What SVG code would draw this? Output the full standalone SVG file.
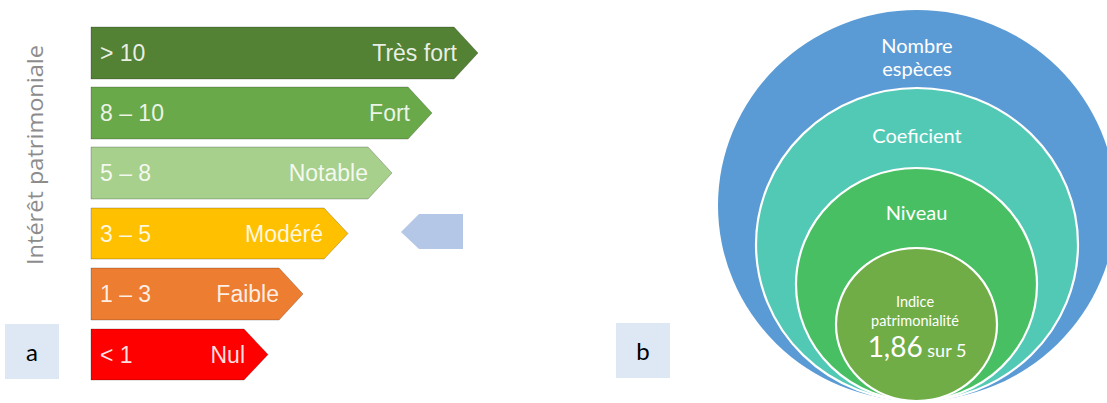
<svg xmlns="http://www.w3.org/2000/svg" width="1107" height="403" viewBox="0 0 1107 403">
<style>
.bar{stroke:#000;stroke-opacity:0.22;stroke-width:1}
.bt{font-family:"Liberation Sans",Arial,sans-serif;font-size:23px;fill:#fff;fill-opacity:0.88}
.ct{font-family:Lato,"Open Sans",sans-serif;fill:#fff;text-anchor:middle}
.lbl{font-family:Lato,"Open Sans",sans-serif;font-size:24px;fill:#000;text-anchor:middle}
.ring{stroke:#fff;stroke-width:2.2}
</style>
<rect width="1107" height="403" fill="#fff"/>
<g id="axis-label">
<text x="43" y="155" transform="rotate(-90 43 155)" text-anchor="middle" font-family="'Open Sans',sans-serif" font-size="21" fill="#8c8c8c" textLength="220" lengthAdjust="spacingAndGlyphs">Intérêt patrimoniale</text>
</g>
<g id="bar-tres-fort">
<polygon class="bar" fill="#548235" points="91,27 454,27 478,53 454,79 91,79"/>
<text class="bt" x="100" y="61">&gt; 10</text>
<text class="bt" x="457" y="61" text-anchor="end">Très fort</text>
</g>
<g id="bar-fort">
<polygon class="bar" fill="#6aa94a" points="91,87 408,87 432,113 408,139 91,139"/>
<text class="bt" x="100" y="121">8 – 10</text>
<text class="bt" x="410" y="121" text-anchor="end">Fort</text>
</g>
<g id="bar-notable">
<polygon class="bar" fill="#a7d08d" points="91,147 368,147 392,173 368,199 91,199"/>
<text class="bt" x="100" y="181">5 – 8</text>
<text class="bt" x="368" y="181" text-anchor="end">Notable</text>
</g>
<g id="bar-modere">
<polygon class="bar" fill="#ffc000" points="91,208 324,208 348,233.5 324,259 91,259"/>
<text class="bt" x="100" y="241.5">3 – 5</text>
<text class="bt" x="323" y="241.5" text-anchor="end">Modéré</text>
</g>
<g id="bar-faible">
<polygon class="bar" fill="#ed7d31" points="91,268 279,268 303,294 279,320 91,320"/>
<text class="bt" x="100" y="302">1 – 3</text>
<text class="bt" x="279" y="302" text-anchor="end">Faible</text>
</g>
<g id="bar-nul">
<polygon class="bar" fill="#ff0000" points="91,329 244,329 268,354.5 244,380 91,380"/>
<text class="bt" x="100" y="362.5">&lt; 1</text>
<text class="bt" x="245" y="362.5" text-anchor="end">Nul</text>
</g>
<g id="pointer">
<polygon fill="#b4c7e7" points="401,232 419,214 463,214 463,249 419,249"/>
</g>
<g id="label-a">
<rect x="5" y="324" width="54" height="55" fill="#dde8f4"/>
<text class="lbl" x="32" y="361">a</text>
</g>
<g id="label-b">
<rect x="616" y="323" width="54" height="55" fill="#dde8f4"/>
<text class="lbl" x="643" y="360">b</text>
</g>
<g id="ring-nombre">
<ellipse cx="917" cy="205.5" rx="199" ry="195.5" fill="#5b9bd5"/>
<text class="ct" x="917" y="53" font-size="20">Nombre</text>
<text class="ct" x="917" y="76" font-size="20">espèces</text>
</g>
<g id="ring-coeficient">
<ellipse class="ring" cx="917" cy="244.5" rx="161" ry="156.5" fill="#52c9b5"/>
<text class="ct" x="917" y="143" font-size="20">Coeficient</text>
</g>
<g id="ring-niveau">
<ellipse class="ring" cx="916.5" cy="284.5" rx="120.5" ry="116.5" fill="#49bf63"/>
<text class="ct" x="916.5" y="220" font-size="20">Niveau</text>
</g>
<g id="core-indice">
<ellipse class="ring" cx="916.5" cy="324.5" rx="80.5" ry="76.5" fill="#70ad47"/>
<text class="ct" x="915" y="307" font-size="14.5">Indice</text>
<text class="ct" x="915" y="326" font-size="14.5">patrimonialité</text>
<text class="ct" x="917" y="357"><tspan font-size="28">1,86</tspan><tspan font-size="18"> sur 5</tspan></text>
</g>
</svg>
